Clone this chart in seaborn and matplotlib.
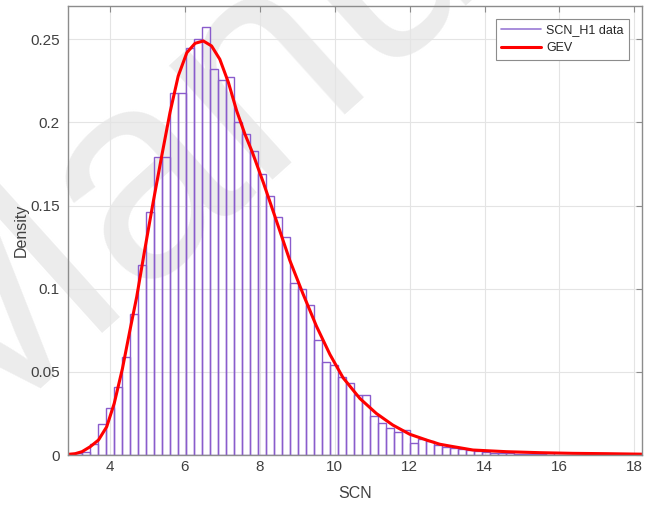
import numpy as np
import pandas as pd
import matplotlib
matplotlib.use("Agg")
import matplotlib.pyplot as plt
from matplotlib.lines import Line2D
import seaborn as sns

# histogram bins
bin_start = 2.834
bin_width = 0.2135
density = [0.0003, 0.001, 0.002, 0.0066, 0.0187, 0.028, 0.041, 0.059, 0.085, 0.1145,
           0.146, 0.179, 0.179, 0.2175, 0.2175, 0.2446, 0.2504, 0.2576, 0.2323, 0.2253,
           0.2275, 0.2004, 0.1928, 0.1827, 0.1687, 0.1556, 0.143, 0.131, 0.1034, 0.100,
           0.0904, 0.0689, 0.0562, 0.0542, 0.047, 0.0432, 0.036, 0.036, 0.0233, 0.019,
           0.016, 0.014, 0.015, 0.0074, 0.0095, 0.0085, 0.006, 0.005, 0.004, 0.0035,
           0.003, 0.0022, 0.002, 0.0015, 0.0012, 0.001, 0.0008, 0.0007, 0.0005, 0.0004,
           0.0015, 0.0003, 0.0002, 0.0002, 0.0001, 0.0001, 0.0001, 0.0, 0.0001, 0.0,
           0.0, 0.0001]

# GEV fit curve
gev_x = [2.88, 3.07, 3.25, 3.47, 3.69, 3.91, 4.11, 4.33, 4.53, 4.71, 4.93, 5.15, 5.38,
         5.60, 5.82, 6.05, 6.27, 6.49, 6.71, 6.93, 7.16, 7.38, 7.60, 7.80, 8.09, 8.40,
         8.80, 9.15, 9.51, 9.87, 10.22, 10.67, 11.11, 11.55, 12.0, 12.45, 12.8, 13.07,
         13.69, 14.58, 15.47, 16.35, 17.24, 18.2]
gev_y = [0.0004, 0.0008, 0.002, 0.005, 0.009, 0.017, 0.031, 0.052, 0.075, 0.095, 0.124,
         0.152, 0.180, 0.206, 0.228, 0.242, 0.2476, 0.249, 0.246, 0.238, 0.224, 0.207,
         0.193, 0.182, 0.164, 0.1436, 0.117, 0.097, 0.0775, 0.0605, 0.0465, 0.034, 0.025,
         0.018, 0.0125, 0.009, 0.0065, 0.0054, 0.003, 0.002, 0.0014, 0.001, 0.0008, 0.0005]

x_ticks = [4, 6, 8, 10, 12, 14, 16, 18]
y_ticks = [0, 0.05, 0.1, 0.15, 0.2, 0.25]
y_ticklabels = ["0", "0.05", "0.1", "0.15", "0.2", "0.25"]

sns.set_style("white")
plt.rcParams["font.family"] = ["Liberation Sans", "DejaVu Sans"]

purple = "#8a5ccc"
red = "#ff0000"

fig = plt.figure(figsize=(6.49, 5.05), dpi=100)
fig.patch.set_facecolor("white")

# faint watermark behind the axes
fig.text(-0.075, 0.113, "Manu", fontsize=210, color="#ececec", rotation=42,
         rotation_mode="anchor", ha="left", va="baseline", zorder=0.5)

ax = fig.add_axes([0.105, 0.099, 0.884, 0.889])
ax.set_zorder(1)
ax.patch.set_facecolor("none")

n_bins = len(density)
centers = bin_start + bin_width * (np.arange(n_bins) + 0.5)
hist_df = pd.DataFrame({"scn": centers, "w": density})

sns.histplot(data=hist_df, x="scn", weights="w", binwidth=bin_width,
             binrange=(bin_start, bin_start + bin_width * n_bins), stat="count",
             fill=False, element="bars", color=purple, linewidth=1.0, ax=ax)
sns.lineplot(x=gev_x, y=gev_y, color=red, linewidth=2.2, sort=False, ax=ax)

ax.set_xlim(2.88, 18.2)
ax.set_ylim(0, 0.27)
ax.set_xticks(x_ticks)
ax.set_yticks(y_ticks)
ax.set_yticklabels(y_ticklabels)
ax.set_axisbelow(True)
ax.grid(True, color="#e4e4e4", linewidth=0.8)
ax.tick_params(direction="in", top=True, right=True, length=4, width=0.8,
               colors="#8c8c8c", labelcolor="#404040", labelsize=11)
ax.tick_params(axis="y", pad=6)
for s in ax.spines.values():
    s.set_color("#8c8c8c")
    s.set_linewidth(1.0)

ax.set_xlabel("SCN", fontsize=11.5, color="#404040", labelpad=9)
ax.set_ylabel("Density", fontsize=11.5, color="#404040", labelpad=1)

handles = [Line2D([], [], color="#9a7ad6", linewidth=1.2),
           Line2D([], [], color=red, linewidth=2.2)]
leg = ax.legend(handles, ["SCN_H1 data", "GEV"], loc="upper right", fontsize=9,
                fancybox=False, framealpha=1, edgecolor="#8c8c8c", borderaxespad=1.0,
                handlelength=3.2, handletextpad=0.4, borderpad=0.45, labelspacing=0.5)
leg.get_frame().set_linewidth(0.8)

fig.savefig("out.png", dpi=100)
